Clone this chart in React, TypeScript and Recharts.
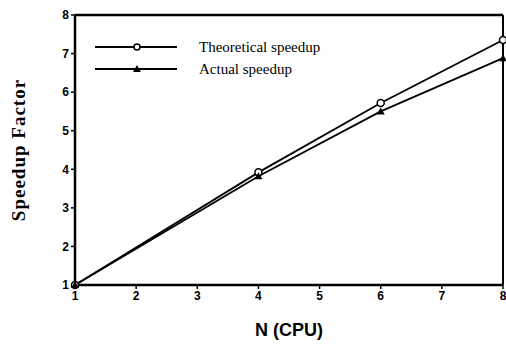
import React from 'react'
import { LineChart, Line, XAxis, YAxis, ReferenceLine } from 'recharts'

const cpus = [1, 4, 6, 8]
const theoretical = [1, 3.92, 5.72, 7.35]
const actual = [1, 3.82, 5.5, 6.88]
const xTicks = [1, 2, 3, 4, 5, 6, 7, 8]
const yTicks = [1, 2, 3, 4, 5, 6, 7, 8]
const seriesNames = ['Theoretical speedup', 'Actual speedup']

const data = cpus.map((n, i) => ({ n, theoretical: theoretical[i], actual: actual[i] }))

// eslint-disable-next-line @typescript-eslint/no-explicit-any
const Triangle = ({ cx, cy }: any) => {
  if (cx == null || cy == null) return null
  return <path d={`M${cx},${cy - 4} L${cx + 4},${cy + 3} L${cx - 4},${cy + 3} Z`} fill="#000" />
}

// eslint-disable-next-line @typescript-eslint/no-explicit-any
const Circle = ({ cx, cy }: any) => {
  if (cx == null || cy == null) return null
  return <circle cx={cx} cy={cy} r={3.5} fill="#fff" stroke="#000" strokeWidth={1.5} />
}

// legend drawn on top of the plot, like the original figure
const LegendBox = () => (
  <div
    style={{
      position: 'absolute',
      top: 36,
      left: 95,
      fontFamily: '"Liberation Serif", serif',
      fontSize: 15,
      color: '#000',
    }}
  >
    {seriesNames.map((name, i) => (
      <div key={name} style={{ display: 'flex', alignItems: 'center', height: 22 }}>
        <svg width={104} height={12}>
          <line x1={0} y1={6} x2={82} y2={6} stroke="#000" strokeWidth={2} />
          {i === 0 ? (
            <circle cx={42} cy={6} r={3} fill="#fff" stroke="#000" strokeWidth={1.5} />
          ) : (
            <path d="M42,2 L46,9 L38,9 Z" fill="#000" />
          )}
        </svg>
        <span>{name}</span>
      </div>
    ))}
  </div>
)

export default function App() {
  return (
    <div style={{ position: 'absolute', top: 0, left: 0, width: 506, height: 344, background: '#fff' }}>
      <LineChart width={506} height={344} data={data} margin={{ top: 15, right: 3, bottom: 4, left: 5 }}>
        <XAxis
          dataKey="n"
          type="number"
          domain={[1, 8]}
          ticks={xTicks}
          tick={{ fontSize: 12, fontWeight: 'bold', fill: '#000', fontFamily: '"Liberation Sans", Arial' }}
          axisLine={{ stroke: '#000', strokeWidth: 2.5 }}
          tickLine={{ stroke: '#000', strokeWidth: 1.5 }}
          tickSize={4}
          height={55}
          label={{
            value: 'N (CPU)',
            position: 'insideBottom',
            offset: 4,
            style: { fontSize: 18, fontWeight: 'bold', fill: '#000', fontFamily: '"Liberation Sans", Arial' },
          }}
        />
        <YAxis
          type="number"
          domain={[1, 8]}
          ticks={yTicks}
          tick={{ fontSize: 12, fontWeight: 'bold', fill: '#000', fontFamily: '"Liberation Sans", Arial' }}
          axisLine={{ stroke: '#000', strokeWidth: 2.5 }}
          tickLine={{ stroke: '#000', strokeWidth: 1.5 }}
          tickSize={4}
          width={70}
          label={{
            value: 'Speedup  Factor',
            angle: -90,
            position: 'insideLeft',
            offset: 13,
            style: {
              fontSize: 19,
              fontWeight: 'bold',
              letterSpacing: 1,
              fill: '#000',
              fontFamily: '"Liberation Serif", serif',
              textAnchor: 'middle',
            },
          }}
        />
        <ReferenceLine y={8} stroke="#000" strokeWidth={2.5} />
        <ReferenceLine x={8} stroke="#000" strokeWidth={2} />
        <Line
          isAnimationActive={false}
          type="linear"
          dataKey="theoretical"
          name={seriesNames[0]}
          stroke="#000"
          strokeWidth={1.8}
          dot={<Circle />}
          activeDot={false}
        />
        <Line
          isAnimationActive={false}
          type="linear"
          dataKey="actual"
          name={seriesNames[1]}
          stroke="#000"
          strokeWidth={1.8}
          dot={<Triangle />}
          activeDot={false}
        />
      </LineChart>
      <LegendBox />
    </div>
  )
}
